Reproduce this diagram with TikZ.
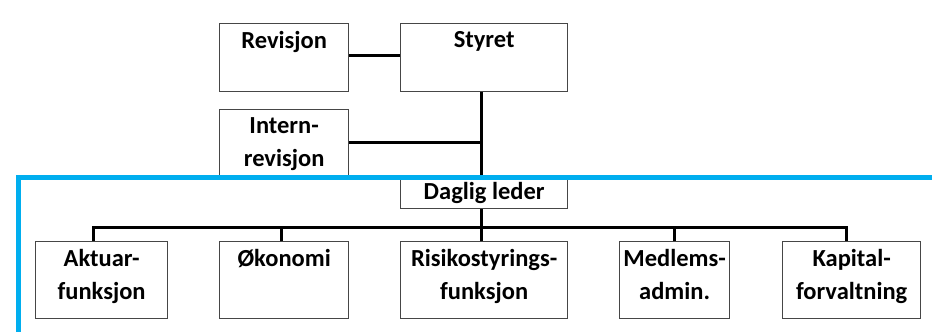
\documentclass[tikz,border=0pt]{standalone}
\usepackage{fontspec}
\setmainfont{Carlito}
\definecolor{frameblue}{RGB}{0,174,239}
\definecolor{boxline}{RGB}{70,70,70}
\begin{document}
\begin{tikzpicture}[x=1pt,y=-1pt,
  box/.style={draw=boxline, line width=1.3pt, fill=white, rectangle, inner sep=0pt, anchor=north west},
  txt/.style={anchor=north, inner sep=0pt, align=center, font=\bfseries\fontsize{24.5}{33}\selectfont, yshift=-8.5pt},
  conn/.style={draw=black, line width=3pt},
  frame/.style={draw=frameblue, line width=5pt}]
\useasboundingbox (0,0) rectangle (932,332);
% boxes
\node[box, minimum width=129pt, minimum height=68pt] (rev) at (219,23) {};
\node[box, minimum width=167pt, minimum height=68pt] (sty) at (400,23) {};
\node[box, minimum width=129pt, minimum height=66pt] (int) at (219,109) {};
\node[box, minimum width=167pt, minimum height=33pt] (dag) at (400,175) {};
\node[box, minimum width=132pt, minimum height=77pt] (akt) at (35,241) {};
\node[box, minimum width=129pt, minimum height=77pt] (oko) at (219,241) {};
\node[box, minimum width=167pt, minimum height=77pt] (ris) at (400,241) {};
\node[box, minimum width=110pt, minimum height=77pt] (med) at (619,241) {};
\node[box, minimum width=138pt, minimum height=77pt] (kap) at (782,241) {};
% texts
\node[txt] (revT) at (rev.north) {Revisjon};
\node[txt] (styT) at (sty.north) {Styret};
\node[txt] (intT) at (int.north) {Intern-\\revisjon};
\node[txt, yshift=1pt] (dagT) at (dag.north) {Daglig leder};
\node[txt] (aktT) at (akt.north) {Aktuar-\\funksjon};
\node[txt] (okoT) at (oko.north) {Økonomi};
\node[txt] (risT) at (ris.north) {Risikostyrings-\\funksjon};
\node[txt] (medT) at (med.north) {Medlems-\\admin.};
\node[txt] (kapT) at (kap.north) {Kapital-\\forvaltning};
% connectors
\coordinate (bus) at (0,227);
\coordinate (spine) at (481,0);
\draw[conn] ([yshift=2pt]rev.east) -- ([yshift=2pt]sty.west);
\draw[conn] (spine |- sty.south) -- (spine |- dag.north);
\draw[conn] (int.east) -- (spine |- int.east);
\draw[conn] (spine |- dag.south) -- (spine |- ris.north);
\draw[conn] ([xshift=-8pt]akt.north) -- ([xshift=-8pt]akt.north |- bus) -| ([xshift=-5pt]kap.north);
\draw[conn] ([xshift=-3pt]oko.north) -- ([xshift=-3pt]oko.north |- bus);
\draw[conn] (med.north) -- (med.north |- bus);
% blue frame
\draw[frame] (18.5,340) -- (18.5,177.5) -- (940,177.5);
\end{tikzpicture}
\end{document}
